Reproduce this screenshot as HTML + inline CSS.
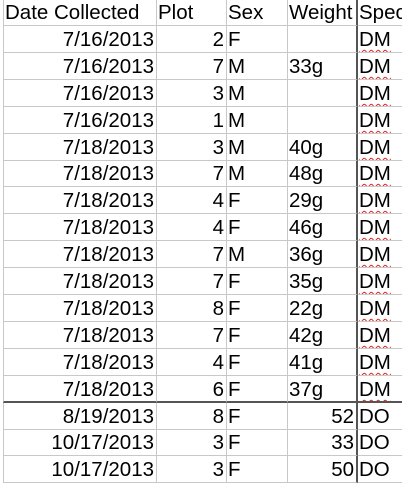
<!DOCTYPE html>
<html><head><meta charset="utf-8"><style>
body{margin:0;width:402px;height:466px;overflow:hidden;background:#fff;font-family:"Liberation Sans",sans-serif;font-size:20.5px;color:#000;}
#sheet{position:absolute;left:0;top:0;width:402px;height:466px;}
.c{position:absolute;height:27px;line-height:27px;white-space:nowrap;overflow:hidden;box-sizing:border-box;border-right:1px solid #c8c8c8;border-bottom:1px solid #c8c8c8;padding:0 2px 0 1px;}
.r{text-align:right;}
.sq{text-decoration:underline wavy #e02020;text-decoration-thickness:1px;text-underline-offset:3px;}
</style></head><body>
<div id="sheet"></div>
<script>
const headers=["Date Collected","Plot","Sex","Weight","Species"];
const dates=["7/16/2013","7/16/2013","7/16/2013","7/16/2013","7/18/2013","7/18/2013","7/18/2013","7/18/2013","7/18/2013","7/18/2013","7/18/2013","7/18/2013","7/18/2013","7/18/2013","8/19/2013","10/17/2013","10/17/2013"];
const plots=[2,7,3,1,3,7,4,4,7,7,8,7,4,6,8,3,3];
const sexes=["F","M","M","M","M","M","F","F","M","F","F","F","F","F","F","F","F"];
const weights=["","33g","","","40g","48g","29g","46g","36g","35g","22g","42g","41g","37g","52","33","50"];
const species=["DM","DM","DM","DM","DM","DM","DM","DM","DM","DM","DM","DM","DM","DM","DO","DO","DO"];
const colX=[3,157,227,288,358,420];
const sheet=document.getElementById('sheet');
function cell(ci,y,h,text,cls,name){
  const d=document.createElement('div');
  d.className='c '+(cls||'');
  d.style.left=colX[ci]+'px';d.style.top=y+'px';
  d.style.width=(colX[ci+1]-colX[ci])+'px';d.style.height=h+'px';d.style.lineHeight=h+'px';
  if(ci===0)d.style.borderLeft='1px solid #c8c8c8';
  if(ci===3)d.style.borderRight='2px solid #555';
  d.textContent=text;
  
  
  sheet.appendChild(d);return d;
}
headers.forEach((h,i)=>cell(i,0,26,h,'',"header-"+h.toLowerCase().replace(/ /g,'-')));
const rowH=26.9;
dates.forEach((d,i)=>{
  const y=Math.round(26+i*rowH),h=Math.round(26+(i+1)*rowH)-y;
  const cells=[
    cell(0,y,h,d,'r','date-cell'),
    cell(1,y,h,String(plots[i]),'r','plot-cell'),
    cell(2,y,h,sexes[i],'','sex-cell'),
    cell(3,y,h,weights[i],/g$/.test(weights[i])?'':'r','weight-cell'),
  ];
  const s=cell(4,y,h,'','','species-cell');
  const sp=document.createElement('span');sp.textContent=species[i];
  if(species[i]==='DM')sp.className='sq';
  s.appendChild(sp);
  if(i===13)[...cells,s].forEach(c=>c.style.borderBottom='2px solid #555');
});
</script>
</body></html>
